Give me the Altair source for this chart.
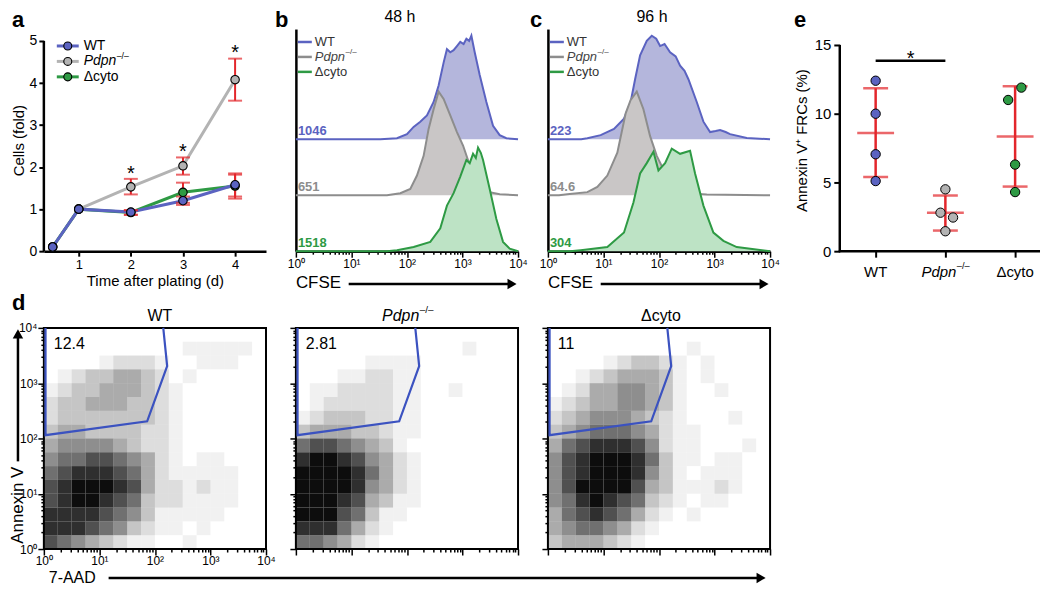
import math
import altair as alt
import pandas as pd

FONT = "Liberation Sans"
BLUE, GRAY, GREEN, RED = "#5b63c1", "#b3b3b3", "#2e9a44", "#e3262b"
BLUE_F, GRAY_F, GREEN_F = "#b4b6dc", "#c9c6c6", "#bde3c5"
GRAY_L = "#8d8d8d"
GATE = "#3b52c0"

W, H = 223, 223      # top-row plot size
WE = 241             # panel e width
HD = 222             # panel d height

# ---------------- panel a data ----------------
days = [0.5, 1, 2, 3, 4]
a_wt = [0.1, 1.0, 0.93, 1.20, 1.58]
a_pdpn = [0.1, 1.0, 1.53, 2.03, 4.08]
a_dcyto = [0.1, 1.0, 0.92, 1.40, 1.55]
err_days = [2, 3, 4]
a_wt_lo = [0.87, 1.10, 1.30]
a_wt_hi = [0.98, 1.30, 1.85]
a_pdpn_lo = [1.35, 1.82, 3.58]
a_pdpn_hi = [1.72, 2.23, 4.58]
a_dcyto_lo = [0.86, 1.15, 1.25]
a_dcyto_hi = [0.97, 1.63, 1.82]
star_days = [2, 3, 4]
star_y = [1.98, 2.50, 4.85]

# ---------------- panels b, c data (log10 CFSE, % of peak) ----------------
b_wt_x = [0, 1.52, 1.82, 2.0, 2.12, 2.24, 2.36, 2.48, 2.57, 2.66, 2.72, 2.78, 2.84, 2.90, 2.96, 3.02, 3.07, 3.12, 3.16, 3.22, 3.31, 3.43, 3.55, 3.67, 3.79, 4.0]
b_wt_h = [0, 0, 1, 5, 12, 17, 23, 36, 52, 74, 87, 84, 86, 90, 94, 92, 97, 95, 100, 84, 62, 36, 13, 4, 1, 0]
b_pd_x = [0, 1.64, 1.88, 2.06, 2.18, 2.30, 2.39, 2.48, 2.57, 2.66, 2.78, 2.90, 3.01, 3.13, 3.31, 3.49, 3.67, 4.0]
b_pd_h = [0, 0, 2, 6, 19, 38, 64, 83, 100, 93, 77, 61, 48, 29, 13, 3, 1, 0]
b_dc_x = [0, 1.64, 1.82, 2.12, 2.42, 2.60, 2.72, 2.84, 2.96, 3.07, 3.13, 3.19, 3.24, 3.28, 3.33, 3.37, 3.49, 3.61, 3.73, 3.85, 4.0]
b_dc_h = [0, 0, 1, 4, 9, 22, 44, 56, 72, 88, 85, 94, 90, 100, 95, 88, 60, 31, 9, 2.5, 0]
b_nums = ["1046", "651", "1518"]

c_wt_x = [0, 0.6, 0.71, 0.95, 1.19, 1.37, 1.49, 1.57, 1.66, 1.78, 1.87, 1.95, 2.02, 2.10, 2.20, 2.30, 2.38, 2.46, 2.53, 2.68, 2.80, 2.92, 3.02, 3.10, 3.20, 3.28, 3.58, 4.0]
c_wt_h = [0, 0, 1, 4, 10, 20, 36, 58, 81, 95, 100, 97, 90, 92, 84, 80, 71, 66, 58, 36, 17, 7, 8, 9, 7, 5, 1.3, 0]
c_pd_x = [0, 0.2, 0.35, 0.71, 0.89, 1.07, 1.25, 1.40, 1.49, 1.60, 1.72, 1.84, 1.96, 2.08, 2.26, 2.56, 2.86, 4.0]
c_pd_h = [0, 0, 1, 3, 8, 19, 41, 79, 92, 100, 83, 57, 38, 25, 6, 1.6, 0.6, 0]
c_dc_x = [0, 0.4, 0.59, 1.07, 1.37, 1.54, 1.66, 1.78, 1.90, 1.99, 2.11, 2.23, 2.38, 2.56, 2.65, 2.80, 2.98, 3.16, 3.40, 4.0]
c_dc_h = [0, 0, 1, 4, 18, 47, 75, 85, 96, 78, 85, 99, 94, 97, 75, 44, 18, 10, 4, 0]
c_nums = ["223", "64.6", "304"]

# ---------------- panel d data: density (0-9) on a 16x16 grid, rows top->bottom ----------------
d_wt = ["0000000000000000", "0000000000111110", "0000122210011100", "0123344320100000",
        "1233444321000000", "2334443321000000", "2333333321000000", "3443333221000000",
        "4555543221000000", "5667765421011000", "6788876421111100", "7899987422121100",
        "7899876322111100", "8888765311111000", "8887653211010000", "7654321100100000"]
d_pdpn = ["0000000000000000", "0000000000001000", "0000011110000000", "0001122110000000",
          "0112222110010000", "0122222110000000", "1233322110000000", "3444332110000000",
          "6776543100000000", "8998754210000000", "9999864210000000", "9999854210000000",
          "9998743110000000", "9997631100000000", "8886421000000000", "6654210000000000"]
d_dcyto = ["0000000000000000", "0000000000100000", "0000123321010000", "0012344431010000",
           "0124455431001000", "1234455431000000", "2345554321000100", "3456665421100000",
           "4678887521100010", "5789998631101100", "5789998531011100", "5799997431112100",
           "5689876321011000", "4678764210100000", "4566542100000000", "3444321000000000"]
d_pcts = ["12.4", "2.81", "11"]
gate_x = [0.03, 0.03, 1.86, 2.22, 2.15]
gate_y = [4.0, 2.06, 2.31, 3.31, 4.0]

# ---------------- panel e data ----------------
e_wt = [12.4, 10.0, 7.05, 5.1]
e_pdpn = [4.5, 2.8, 2.45, 1.45]
e_dcyto = [11.0, 11.9, 6.3, 4.3]
e_wt_jit = [0, 0, 0, 0]
e_pdpn_jit = [0, -0.07, 0.11, 0]
e_dcyto_jit = [-0.10, 0.09, 0, 0]
e_mean = [8.6, 2.8, 8.35]
e_sd_lo = [5.4, 1.5, 4.7]
e_sd_hi = [11.85, 4.05, 12.0]
e_sig_y = 13.85

ONE = pd.DataFrame({"k": [0]})
SUPS = "['⁰','¹','²','³','⁴']"
MINOR = [d + math.log10(k) for d in range(4) for k in range(2, 10)]
TICKS = [0, 1, 2, 3, 4] + MINOR


def txt(s, x, y, size=14, **kw):
    return alt.Chart(ONE).mark_text(text=s, fontSize=size, **kw).encode(x=alt.value(x), y=alt.value(y))


def letter(s, x, y):
    return txt(s, x, y, 22, fontWeight="bold", align="left", baseline="alphabetic")


def pdpn_text(data, x, y, size, dx, color="black"):
    w = 2.335 * size
    main = alt.Chart(data).mark_text(text="Pdpn", fontStyle="italic", fontSize=size, align="left",
                                     baseline="middle", dx=dx, color=color).encode(x=x, y=y)
    sup = alt.Chart(data).mark_text(text="–/–", fontSize=round(size * 0.62, 1), align="left",
                                    baseline="middle", dx=dx + w + 0.5, dy=-0.4 * size,
                                    color=color).encode(x=x, y=y)
    return [main, sup]


def log_axis(labels=True, domain=True):
    return alt.Axis(values=TICKS, labels=labels,
                    labelExpr="datum.value % 1 === 0 ? '10' + " + SUPS + "[datum.value] : ''",
                    labelFontSize=12, labelOverlap=False, labelFlush=False, labelPadding=1,
                    tickSize={"condition": {"test": "datum.value % 1 === 0", "value": 6}, "value": 3},
                    tickWidth=1.5, domain=domain, domainWidth=2.5, title=None, grid=False)


def arrow_right(x1, x2, y):
    line = alt.Chart(ONE).mark_rule(strokeWidth=2.5, color="black").encode(
        x=alt.value(x1), x2=alt.value(x2), y=alt.value(y))
    head = alt.Chart(ONE).mark_point(shape="triangle-right", filled=True, size=110, color="black",
                                     opacity=1).encode(x=alt.value(x2 + 2), y=alt.value(y))
    return [line, head]


# ======================= panel a =======================
def xa(f="day"):
    return alt.X(f + ":Q", scale=alt.Scale(domain=[0.331, 4.593], nice=False, zero=False),
                 axis=alt.Axis(values=[1, 2, 3, 4], title="Time after plating (d)", tickSize=5, tickWidth=2,
                               domainWidth=2.5, labelFontSize=13, titleFontSize=15, labelPadding=2,
                               titlePadding=2, labelFlush=False, format="d", titleFontWeight="normal"))


def ya(f="v"):
    return alt.Y(f + ":Q", scale=alt.Scale(domain=[0, 5.284], nice=False, zero=False),
                 axis=alt.Axis(values=[0, 1, 2, 3, 4, 5], title="Cells (fold)", domain=False, tickSize=5,
                               tickWidth=2, labelFontSize=14, titleFontSize=15, labelPadding=2,
                               titlePadding=3, titleFontWeight="normal"))


a_info = [("Pdpn", a_pdpn, a_pdpn_lo, a_pdpn_hi, GRAY),
          ("dcyto", a_dcyto, a_dcyto_lo, a_dcyto_hi, GREEN),
          ("WT", a_wt, a_wt_lo, a_wt_hi, BLUE)]
a_layers = []
for name, vals, lo, hi, col in a_info:
    df = pd.DataFrame({"day": days, "v": vals})
    a_layers.append(alt.Chart(df).mark_line(color=col, strokeWidth=3).encode(x=xa(), y=ya()))
for name, vals, lo, hi, col in a_info:
    df = pd.DataFrame({"day": err_days, "v": lo, "v2": hi})
    a_layers.append(alt.Chart(df).mark_rule(color=RED, strokeWidth=2).encode(x=xa(), y=ya(), y2="v2:Q"))
    a_layers.append(alt.Chart(df).mark_tick(color=RED, orient="horizontal", size=14, thickness=2).encode(x=xa(), y=ya()))
    a_layers.append(alt.Chart(df).mark_tick(color=RED, orient="horizontal", size=14, thickness=2).encode(x=xa(), y=ya("v2")))
for name, vals, lo, hi, col in a_info:
    df = pd.DataFrame({"day": days, "v": vals})
    a_layers.append(alt.Chart(df).mark_circle(color=col, size=72, opacity=1, stroke="black", strokeWidth=1.1)
                    .encode(x=xa(), y=ya()))
a_layers.append(alt.Chart(pd.DataFrame({"day": star_days, "v": star_y}))
                .mark_text(text="*", fontSize=20, dy=6).encode(x=xa(), y=ya()))
a_layers.append(alt.Chart(ONE).mark_rule(strokeWidth=2.5, color="black").encode(
    x=alt.value(0), y=alt.datum(0), y2=alt.datum(5)))
# legend
for i, (lab, col) in enumerate([("WT", BLUE), ("Pdpn", GRAY), ("Δcyto", GREEN)]):
    yy = 17 + 15.5 * i
    a_layers.append(alt.Chart(ONE).mark_rule(color=col, strokeWidth=3).encode(
        x=alt.value(13), x2=alt.value(35), y=alt.value(yy)))
    a_layers.append(alt.Chart(ONE).mark_circle(color=col, size=64, opacity=1, stroke="black", strokeWidth=1.1)
                    .encode(x=alt.value(24), y=alt.value(yy)))
    if lab == "Pdpn":
        a_layers += pdpn_text(ONE, alt.value(40), alt.value(yy), 14, 0)
    else:
        a_layers.append(txt(lab, 40, yy, 14, align="left", baseline="middle"))
a_layers.append(letter("a", -32, -2))
panel_a = alt.layer(*a_layers).properties(width=W, height=H)

# ======================= panels b, c =======================
HIST_PX = 1.04
BASES = [108, 54, 0]
HIST_SERIES = [(BLUE, BLUE_F), (GRAY_L, GRAY_F), (GREEN, GREEN_F)]


def hist_panel(curves, nums, title, let, let_dx):
    def X():
        return alt.X("x:Q", scale=alt.Scale(domain=[0, 4], nice=False, zero=False), axis=log_axis())

    def Y(f="y"):
        return alt.Y(f + ":Q", scale=alt.Scale(domain=[0, H / HIST_PX], nice=False, zero=False),
                     axis=alt.Axis(ticks=False, labels=False, title=None, domainWidth=2.5, grid=False))

    layers = []
    for (lc, fc), base, (xs, hs), num in zip(HIST_SERIES, BASES, curves, nums):
        df = pd.DataFrame({"x": xs, "y": [base + h for h in hs], "base": [base] * len(xs)})
        layers.append(alt.Chart(df).mark_area(color=fc, opacity=1).encode(x=X(), y=Y(), y2="base:Q"))
        layers.append(alt.Chart(df).mark_line(color=lc, strokeWidth=2).encode(x=X(), y=Y()))
    for (lc, fc), base, num in zip(HIST_SERIES, BASES, nums):
        layers.append(alt.Chart(ONE).mark_text(text=num, fontSize=13, fontWeight="bold", color=lc, align="left",
                                               baseline="bottom", dy=-1)
                      .encode(x=alt.value(2), y=alt.datum(base)))
    for i, (lab, (lc, fc)) in enumerate(zip(["WT", "Pdpn", "Δcyto"], HIST_SERIES)):
        yy = 13 + 15 * i
        layers.append(alt.Chart(ONE).mark_rule(color=lc, strokeWidth=2.5).encode(
            x=alt.value(2), x2=alt.value(16), y=alt.value(yy)))
        if lab == "Pdpn":
            layers += pdpn_text(ONE, alt.value(19), alt.value(yy), 13, 0, "#444444")
        else:
            layers.append(txt(lab, 19, yy, 13, align="left", baseline="middle", color="#333333"))
    layers.append(txt(title, W / 2 - 7, -12, 16, baseline="middle"))
    layers.append(txt("CFSE", 0, H + 32, 17, align="left", baseline="middle"))
    layers += arrow_right(53, 215, H + 33)
    layers.append(letter(let, let_dx, -2))
    return alt.layer(*layers).properties(width=W, height=H)


panel_b = hist_panel([(b_wt_x, b_wt_h), (b_pd_x, b_pd_h), (b_dc_x, b_dc_h)], b_nums, "48 h", "b", -21)
panel_c = hist_panel([(c_wt_x, c_wt_h), (c_pd_x, c_pd_h), (c_dc_x, c_dc_h)], c_nums, "96 h", "c", -18)

# ======================= panel e =======================
E_AX = 40


def xe(f="xi"):
    return alt.X(f + ":Q", scale=alt.Scale(domain=[-1.0857, 2.357], nice=False, zero=False),
                 axis=alt.Axis(values=[0, 1, 2], labels=False, domain=False, tickSize=6, tickWidth=2,
                               title=None, grid=False))


def ye(f="v"):
    return alt.Y(f + ":Q", scale=alt.Scale(domain=[0, 16.16], nice=False, zero=False),
                 axis=alt.Axis(values=[0, 5, 10, 15], offset=-E_AX, domain=False, tickSize=6, tickWidth=2,
                               labelFontSize=15, titleFontSize=15, title="Annexin V⁺ FRCs (%)",
                               labelPadding=3, titlePadding=5, titleFontWeight="normal"))


e_cols = [BLUE, GRAY, GREEN]
pts = []
for gi, (vals, jit) in enumerate([(e_wt, e_wt_jit), (e_pdpn, e_pdpn_jit), (e_dcyto, e_dcyto_jit)]):
    for v, j in zip(vals, jit):
        pts.append({"g": gi, "xi": gi + j, "v": v})
pts = pd.DataFrame(pts)
stats = pd.DataFrame({"xi": [0, 1, 2], "v": e_mean, "lo": e_sd_lo, "hi": e_sd_hi})

e_layers = [
    alt.Chart(stats).mark_rule(color=RED, strokeWidth=2.5).encode(x=xe(), y=ye("lo"), y2="hi:Q"),
    alt.Chart(stats).mark_tick(color=RED, orient="horizontal", size=37, thickness=2.5).encode(x=xe(), y=ye()),
    alt.Chart(stats).mark_tick(color=RED, orient="horizontal", size=25, thickness=2.5).encode(x=xe(), y=ye("lo")),
    alt.Chart(stats).mark_tick(color=RED, orient="horizontal", size=25, thickness=2.5).encode(x=xe(), y=ye("hi")),
    alt.Chart(pts).mark_circle(size=88, opacity=1, stroke="black", strokeWidth=1).encode(
        x=xe(), y=ye(), color=alt.Color("g:N", scale=alt.Scale(domain=[0, 1, 2], range=e_cols), legend=None)),
    alt.Chart(pd.DataFrame({"xi": [0], "x2": [1], "v": [e_sig_y]})).mark_rule(strokeWidth=2.5, color="black")
    .encode(x=xe(), x2="x2:Q", y=ye()),
    alt.Chart(pd.DataFrame({"xi": [0.5], "v": [e_sig_y]})).mark_text(text="*", fontSize=20, dy=-2)
    .encode(x=xe(), y=ye()),
    alt.Chart(ONE).mark_rule(strokeWidth=2.5, color="black").encode(
        x=alt.value(E_AX), y=alt.datum(0), y2=alt.datum(15)),
    alt.Chart(ONE).mark_rule(strokeWidth=2.5, color="black").encode(
        x=alt.value(E_AX - 1), x2=alt.value(WE), y=alt.value(H)),
]
lab_df = pd.DataFrame({"xi": [0, 2], "lab": ["WT", "Δcyto"]})
e_layers.append(alt.Chart(lab_df).mark_text(fontSize=15, baseline="middle").encode(
    x=xe(), y=alt.value(H + 21), text="lab:N"))
e_layers += pdpn_text(pd.DataFrame({"xi": [1]}), xe(), alt.value(H + 21), 15, -24)
e_layers.append(letter("e", -6, -2))
panel_e = alt.layer(*e_layers).properties(width=WE, height=H)


# ======================= panel d =======================
def density_df(rows):
    out = []
    n = len(rows)
    for r, line in enumerate(rows):
        for c, ch in enumerate(line):
            d = int(ch)
            if d > 0:
                y0 = 4 - 4 * (r + 1) / n
                out.append({"x0": 4 * c / n, "x1": 4 * (c + 1) / n, "y0": y0, "y1": y0 + 4 / n, "d": d})
    return pd.DataFrame(out)


def d_panel(rows, pct, first):
    def X(f="x0"):
        return alt.X(f + ":Q", scale=alt.Scale(domain=[0, 4], nice=False, zero=False),
                     axis=log_axis(labels=first, domain=False))

    def Y(f="y0"):
        return alt.Y(f + ":Q", scale=alt.Scale(domain=[0, 4], nice=False, zero=False),
                     axis=log_axis(labels=first, domain=False))

    layers = [
        alt.Chart(density_df(rows)).mark_rect(color="black").encode(
            x=X(), x2="x1:Q", y=Y(), y2="y1:Q",
            opacity=alt.Opacity("d:Q", scale=alt.Scale(type="pow", exponent=1.3, domain=[0, 9],
                                                       range=[0, 0.95]), legend=None)),
        alt.Chart(pd.DataFrame({"gx": gate_x, "gy": gate_y, "o": list(range(len(gate_x)))}))
        .mark_line(color=GATE, strokeWidth=2.2).encode(x=X("gx"), y=Y("gy"), order="o:Q"),
        txt(pct, 10, 16, 16, align="left", baseline="middle"),
    ]
    return layers


d1_layers = d_panel(d_wt, d_pcts[0], True)
d1_layers.append(txt("WT", W / 2 + 5, -12, 16, baseline="middle"))
d1_layers.append(letter("d", -32, -18))
d1_layers.append(txt("Annexin V", -26, 178, 17, angle=270, baseline="middle"))
d1_layers.append(alt.Chart(ONE).mark_rule(strokeWidth=2.5, color="black").encode(
    x=alt.value(-26), y=alt.value(134), y2=alt.value(8)))
d1_layers.append(alt.Chart(ONE).mark_point(shape="triangle-up", filled=True, size=110, color="black", opacity=1)
                 .encode(x=alt.value(-26), y=alt.value(6)))
d1_layers.append(txt("7-AAD", 5, HD + 29, 16, align="left", baseline="middle"))
d1_layers += arrow_right(65, 718, HD + 29)
panel_d1 = alt.layer(*d1_layers).properties(width=W, height=HD,
                                            view=alt.ViewBackground(stroke="black", strokeWidth=2))

d2_layers = d_panel(d_pdpn, d_pcts[1], False)
d2_layers += pdpn_text(ONE, alt.value(W / 2), alt.value(-12), 16, -25)
panel_d2 = alt.layer(*d2_layers).properties(width=W, height=HD,
                                            view=alt.ViewBackground(stroke="black", strokeWidth=2))

d3_layers = d_panel(d_dcyto, d_pcts[2], False)
d3_layers.append(txt("Δcyto", W / 2 + 2, -12, 16, baseline="middle"))
panel_d3 = alt.layer(*d3_layers).properties(width=W, height=HD,
                                            view=alt.ViewBackground(stroke="black", strokeWidth=2))

chart = alt.concat(panel_a, panel_b, panel_c, panel_e, panel_d1, panel_d2, panel_d3,
                   columns=4, spacing={"row": 77, "column": 30}, bounds="flush").properties(
    padding=0
).configure(font=FONT).configure_view(stroke=None).configure_axis(
    domainColor="black", tickColor="black", labelColor="black", titleColor="black",
    labelFont=FONT, titleFont=FONT, grid=False)

chart.save("out.html", embed_options={"renderer": "svg", "actions": False})
